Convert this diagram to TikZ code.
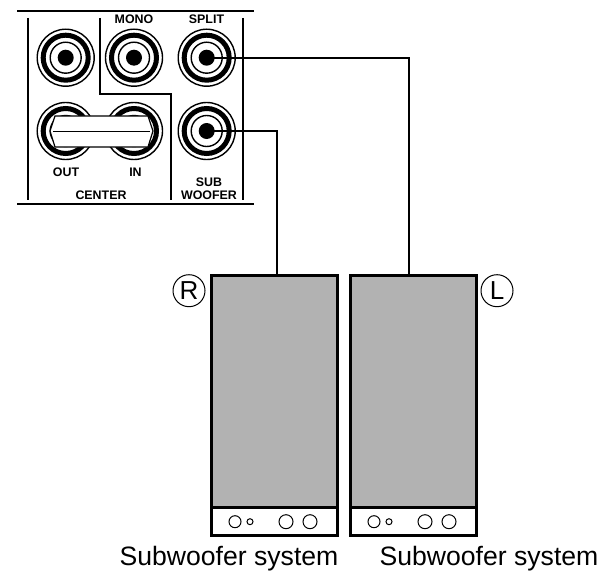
\documentclass[tikz,border=0pt]{standalone}
\usepackage{fontspec}
\setmainfont{Liberation Sans}
\tikzset{
  panelline/.style={line width=2pt},
  wireline/.style={line width=2pt},
  boxline/.style={line width=3pt},
  jackdot/.style={circle,fill=black,inner sep=0pt,minimum size=16pt},
  paneltext/.style={font=\bfseries\fontsize{12.4}{13}\selectfont,align=center,inner sep=0pt},
  captiontext/.style={font=\fontsize{26.6}{28}\selectfont,inner sep=0pt},
  sidemark/.style={circle,draw,line width=1pt,inner sep=0pt,minimum size=32pt,font=\fontsize{26}{26}\selectfont}
}
\definecolor{conegray}{gray}{0.70}
\newcommand{\jackrings}[1]{%
  \draw[line width=1.4pt] (#1) circle (28.5);
  \draw[line width=5pt] (#1) circle (22.5);
  \draw[line width=1.4pt] (#1) circle (15.5);
}
\begin{document}
\begin{tikzpicture}[x=1pt,y=-1pt]
  \useasboundingbox (0,0) rectangle (599,575);

  % panel frame
  \draw[panelline] (17,11) -- (254,11);
  \draw[panelline] (17,204) -- (254,204);
  \draw[panelline] (28,18) -- (28,200);
  \draw[panelline] (243,18) -- (243,200);
  \draw[panelline] (99.5,18) -- (99.5,94.5) -- (171,94.5) -- (171,200);

  % jacks
  \foreach \n/\x/\y in {front/65.7/57.7,mono/134/57.7,split/206.7/57.7,out/65.7/131,in/134/131,sub/206.7/131} {
    \jackrings{\x,\y}
    \node[jackdot] (\n) at (\x,\y) {};
  }

  % link between OUT and IN
  \draw[fill=white,line width=1.2pt] (55,116) -- (148,116) -- (153,131) -- (148,147) -- (55,147) -- (50,131) -- cycle;
  \draw[line width=1pt] (53,131) -- (150,131);

  % panel labels
  \node[paneltext] (monolab) at (134,19.5) {MONO};
  \node[paneltext] (splitlab) at (206.5,19.5) {SPLIT};
  \node[paneltext] (outlab) at (66,172) {OUT};
  \node[paneltext] (inlab) at (135.5,172) {IN};
  \node[paneltext] (centerlab) at (101,195.5) {CENTER};
  \node[paneltext] (sublab) at (209,182) {SUB};
  \node[paneltext] (wooferlab) at (209,195.5) {WOOFER};

  % subwoofers
  \foreach \n/\x in {R/211,L/350} {
    \draw[boxline,fill=conegray] (\x,275) rectangle (\x+126,507);
    \draw[boxline,fill=white] (\x,507) rectangle (\x+126,535);
    \foreach \u/\r in {24/6,39/3,75/7,99/7}
      \draw[line width=1pt] (\x+\u,521.7) circle (\r);
    \coordinate (box\n) at (\x,275);
  }
  \coordinate (inR) at (277,275);
  \coordinate (inL) at (409,275);

  % wires
  \draw[wireline] (sub.center) -| (inR);
  \draw[wireline] (split.center) -| (inL);

  \node[sidemark] (markR) at (189,290.7) {R};
  \node[sidemark] (markL) at (497,290.7) {L};
  \node[captiontext] (capR) at (229,559) {Subwoofer system};
  \node[captiontext] (capL) at (489,559) {Subwoofer system};
\end{tikzpicture}
\end{document}
